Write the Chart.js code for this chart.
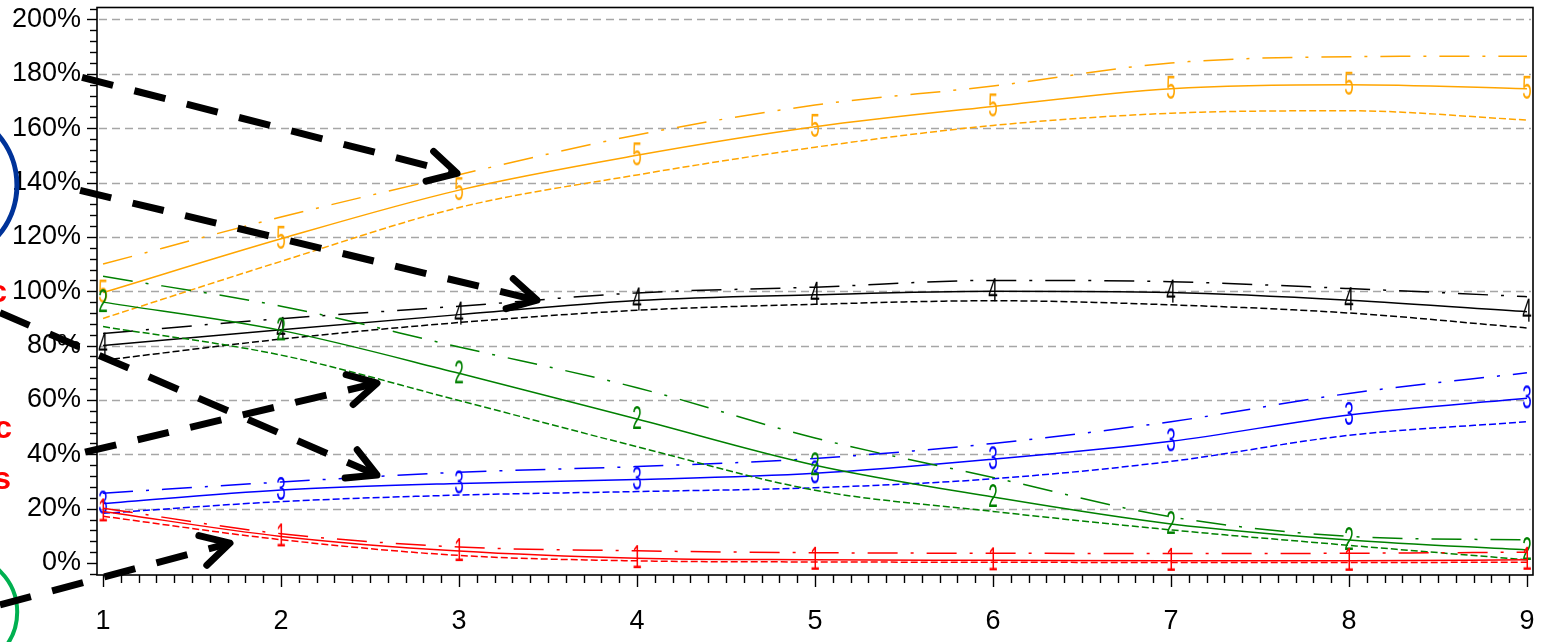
<!DOCTYPE html>
<html>
<head>
<meta charset="utf-8">
<script src="https://cdn.jsdelivr.net/npm/chart.js@4.4.1/dist/chart.umd.min.js"></script>
<style>
  html, body { margin: 0; padding: 0; background: #fff; }
  #wrap { width: 1546px; height: 642px; position: relative; }
</style>
</head>
<body>
<div id="wrap"><canvas id="chart"></canvas></div>
<script>
(function () {
  "use strict";

  // x positions and axis ticks
  const X_VALUES = [1, 2, 3, 4, 5, 6, 7, 8, 9];
  const X_TICKS = [1, 2, 3, 4, 5, 6, 7, 8, 9];
  const Y_TICKS = [0, 20, 40, 60, 80, 100, 120, 140, 160, 180, 200];
  const Y_GRID = [20, 40, 60, 80, 100, 120, 140, 160, 180, 200];

  // series 1 (red)
  const S1_SOLID = [19.0, 9.8, 4.4, 1.8, 1.2, 1.0, 0.8, 0.8, 1.2];
  const S1_DASH = [17.2, 8.6, 2.8, 0.8, 0.4, 0.3, 0.2, 0.2, 0.3];
  const S1_DASHDOT = [20.2, 10.8, 5.9, 4.5, 3.8, 3.6, 3.5, 3.6, 4.0];

  // series 2 (green)
  const S2_SOLID = [96.0, 85.6, 69.8, 53.0, 36.0, 24.3, 14.4, 8.5, 4.8];
  const S2_DASH = [87.0, 76.5, 59.8, 42.8, 26.8, 19.0, 12.2, 6.5, 1.2];
  const S2_DASHDOT = [105.5, 94.5, 79.5, 64.5, 46.0, 31.5, 17.0, 9.8, 8.5];

  // series 3 (blue)
  const S3_SOLID = [21.9, 26.9, 29.3, 30.7, 33.0, 38.2, 44.8, 54.5, 60.6];
  const S3_DASH = [18.3, 22.6, 25.0, 26.3, 27.7, 31.0, 37.4, 47.0, 52.0];
  const S3_DASHDOT = [25.7, 29.8, 33.4, 35.5, 38.5, 44.0, 52.0, 62.4, 70.0];

  // series 4 (black)
  const S4_SOLID = [80.0, 85.8, 91.4, 96.6, 98.7, 100.0, 99.5, 96.7, 92.5];
  const S4_DASH = [74.6, 82.4, 88.5, 93.0, 95.2, 96.5, 95.0, 92.0, 86.5];
  const S4_DASHDOT = [84.5, 89.9, 94.5, 99.4, 101.5, 104.0, 103.5, 101.0, 98.0];

  // series 5 (orange)
  const S5_SOLID = [99.5, 119.3, 137.2, 150.0, 160.5, 168.0, 174.5, 176.0, 174.5];
  const S5_DASH = [90.0, 111.0, 130.8, 142.8, 153.0, 161.0, 165.5, 166.4, 163.0];
  const S5_DASHDOT = [110.0, 127.3, 142.9, 157.5, 168.5, 175.5, 184.0, 186.3, 186.5];

  const GROUPS = [
    { mark: "1", color: "#ff0000", solid: S1_SOLID, dash: S1_DASH, dashdot: S1_DASHDOT },
    { mark: "2", color: "#008000", solid: S2_SOLID, dash: S2_DASH, dashdot: S2_DASHDOT },
    { mark: "3", color: "#0000ff", solid: S3_SOLID, dash: S3_DASH, dashdot: S3_DASHDOT },
    { mark: "4", color: "#000000", solid: S4_SOLID, dash: S4_DASH, dashdot: S4_DASHDOT },
    { mark: "5", color: "#ffa500", solid: S5_SOLID, dash: S5_DASH, dashdot: S5_DASHDOT },
  ];

  // overlay annotations, in data units (x, y%)
  const ARROWS = [
    { from: [0.882, 178.7], to: [2.989, 143.4] },
    { from: [0.871, 137.1], to: [3.438, 96.7] },
    { from: [0.421, 92.1], to: [2.539, 32.4] },
    { from: [0.899, 40.8], to: [2.539, 66.2] },
    { from: [0.421, -15.4], to: [1.713, 7.35] },
  ];
  const CIRCLES = [
    { at: [0.084, 139.0], r: 28.3, color: "#003399", width: 5 },
    { at: [0.197, -18.0], r: 21.0, color: "#00b050", width: 4 },
  ];
  const SIDE_TEXT = [
    { text: "c", at: [0.461, 99.3] },
    { text: "c", at: [0.489, 49.3] },
    { text: "s", at: [0.483, 30.5] },
  ];

  const DASH = [7, 3];
  const DASHDOT = [30, 13, 3, 13];

  const el = (id) => document.getElementById(id);
  const pts = (arr) => arr.map((v, i) => ({ x: X_VALUES[i], y: v }));

  function makeMark(ch, color) {
    const c = document.createElement("canvas");
    c.width = 18;
    c.height = 34;
    const g = c.getContext("2d");
    g.fillStyle = color;
    g.font = "34px 'Liberation Sans', Arial, sans-serif";
    g.textAlign = "center";
    g.textBaseline = "middle";
    g.translate(9, 17);
    g.scale(0.5, 1);
    g.fillText(ch, 0, 1);
    return c;
  }

  function buildDatasets() {
    const out = [];
    for (const gr of GROUPS) {
      const base = {
        borderColor: gr.color,
        backgroundColor: gr.color,
        borderWidth: 1.5,
        fill: false,
        cubicInterpolationMode: "monotone",
      };
      out.push({ ...base, data: pts(gr.dashdot), borderDash: DASHDOT, pointRadius: 0 });
      out.push({ ...base, data: pts(gr.dash), borderDash: DASH, pointRadius: 0 });
      out.push({
        ...base,
        data: pts(gr.solid),
        pointStyle: makeMark(gr.mark, gr.color),
        pointRadius: 6,
      });
    }
    return out;
  }

  const decor = {
    id: "decor",
    beforeDatasetsDraw(chart) {
      const { ctx, chartArea: a, scales } = chart;
      ctx.save();
      ctx.strokeStyle = "#a6a6a6";
      ctx.lineWidth = 1.5;
      ctx.setLineDash([8, 5]);
      for (const v of Y_GRID) {
        const y = Math.round(scales.y.getPixelForValue(v)) + 0.5;
        ctx.beginPath();
        ctx.moveTo(a.left + 2, y);
        ctx.lineTo(a.right - 2, y);
        ctx.stroke();
      }
      ctx.restore();
    },
    afterDatasetsDraw(chart) {
      const { ctx, chartArea: a, scales } = chart;
      ctx.save();
      ctx.strokeStyle = "#000";
      ctx.lineWidth = 1.6;
      ctx.strokeRect(a.left, a.top, a.right - a.left, a.bottom - a.top);

      // y ticks (outside, left)
      ctx.lineWidth = 1.4;
      for (let v = -4; v <= 204; v += 4) {
        const y = Math.round(scales.y.getPixelForValue(v)) + 0.5;
        const len = v % 20 === 0 ? 10 : 7;
        ctx.beginPath();
        ctx.moveTo(a.left - len, y);
        ctx.lineTo(a.left, y);
        ctx.stroke();
      }
      // x ticks (outside, bottom)
      for (let i = 10; i <= 90; i++) {
        const x = Math.round(scales.x.getPixelForValue(i / 10)) + 0.5;
        const len = i % 10 === 0 ? 12 : 8;
        ctx.beginPath();
        ctx.moveTo(x, a.bottom);
        ctx.lineTo(x, a.bottom + len);
        ctx.stroke();
      }
      ctx.restore();
    },
    afterDraw(chart) {
      const { ctx, scales } = chart;
      const px = (p) => [scales.x.getPixelForValue(p[0]), scales.y.getPixelForValue(p[1])];
      const unit = Math.abs(scales.y.getPixelForValue(0) - scales.y.getPixelForValue(1));
      ctx.save();

      for (const c of CIRCLES) {
        const [cx, cy] = px(c.at);
        ctx.strokeStyle = c.color;
        ctx.lineWidth = c.width;
        ctx.beginPath();
        ctx.arc(cx, cy, c.r * unit, 0, Math.PI * 2);
        ctx.stroke();
      }

      ctx.fillStyle = "#ff0000";
      ctx.font = "bold 32px 'Liberation Sans', Arial, sans-serif";
      ctx.textAlign = "right";
      ctx.textBaseline = "middle";
      for (const t of SIDE_TEXT) {
        const [x, y] = px(t.at);
        ctx.fillText(t.text, x, y);
      }

      ctx.strokeStyle = "#000";
      for (const ar of ARROWS) {
        const [x0, y0] = px(ar.from);
        const [x1, y1] = px(ar.to);
        const ang = Math.atan2(y1 - y0, x1 - x0);
        ctx.lineWidth = 7;
        ctx.lineCap = "butt";
        ctx.setLineDash([32, 22]);
        ctx.beginPath();
        ctx.moveTo(x0, y0);
        ctx.lineTo(x1 - Math.cos(ang) * 6, y1 - Math.sin(ang) * 6);
        ctx.stroke();
        ctx.setLineDash([]);
        ctx.lineCap = "round";
        ctx.lineJoin = "round";
        const L = 32, h = 0.5;
        ctx.beginPath();
        ctx.moveTo(x1 - L * Math.cos(ang - h), y1 - L * Math.sin(ang - h));
        ctx.lineTo(x1, y1);
        ctx.lineTo(x1 - L * Math.cos(ang + h), y1 - L * Math.sin(ang + h));
        ctx.stroke();
      }
      ctx.restore();
    },
  };

  const tickFont = { family: "'Liberation Sans', Arial, sans-serif", size: 27 };

  new Chart(el("chart"), {
    type: "line",
    data: { datasets: buildDatasets() },
    options: {
      responsive: true,
      maintainAspectRatio: false,
      animation: false,
      events: [],
      layout: { padding: { left: 0, right: 13, top: 7, bottom: 0 } },
      plugins: { legend: { display: false }, tooltip: { enabled: false } },
      scales: {
        x: {
          type: "linear",
          min: 0.966,
          max: 9.034,
          grid: { display: false, drawTicks: false },
          border: { display: false },
          afterBuildTicks: (s) => { s.ticks = X_TICKS.map((v) => ({ value: v })); },
          afterFit: (s) => {
            s.height = 67;
            s.paddingLeft = 0;
            s.paddingRight = 0;
          },
          ticks: { color: "#000", font: tickFont, padding: 30, maxRotation: 0, autoSkip: false },
        },
        y: {
          type: "linear",
          min: -4.4,
          max: 204.4,
          grid: { display: false, drawTicks: false },
          border: { display: false },
          afterBuildTicks: (s) => { s.ticks = Y_TICKS.map((v) => ({ value: v })); },
          afterFit: (s) => {
            s.width = 97;
            s.paddingTop = 0;
            s.paddingBottom = 0;
          },
          ticks: { color: "#000", font: tickFont, padding: 16, callback: (v) => v + "%" },
        },
      },
    },
    plugins: [decor],
  });
})();
</script>
</body>
</html>
